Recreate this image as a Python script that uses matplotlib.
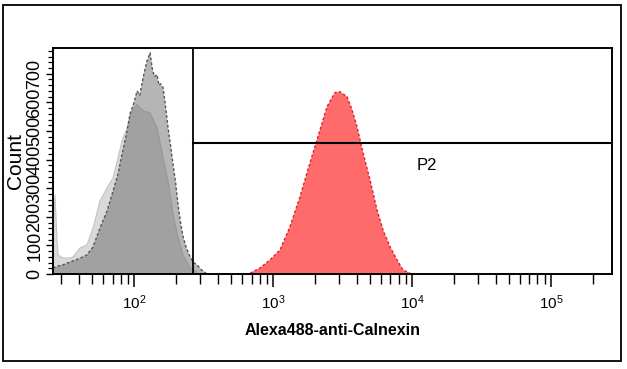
import matplotlib
matplotlib.use("Agg")
import matplotlib.pyplot as plt
from matplotlib import font_manager
from matplotlib.ticker import LogLocator, MultipleLocator, FixedLocator, FixedFormatter, NullFormatter
import numpy as np

# ---------------- data ----------------
# Histogram A (light gray overlay): fluorescence intensity and counts
a_x = [26.1, 27.0, 27.9, 28.4, 30.8, 34.7, 36.4, 40.9, 45.9, 50.7, 56.9, 63.9,
       70.6, 76.7, 82.0, 89.1, 93.6, 105.1, 116.1, 130.4, 146.3, 161.8, 175.7,
       190.8, 207.3, 225.3, 253.1, 283.9]
a_y = [150, 276, 120, 66, 56, 56, 60, 91, 102, 161, 256, 301,
       336, 406, 466, 511, 556, 592, 570, 563, 511, 406, 326,
       210, 126, 66, 21, 7]

# Histogram B (medium gray overlay)
b_x = [26.1, 28.4, 30.8, 34.7, 40.9, 45.9, 50.7, 56.9, 63.9, 70.6, 76.7,
       82.0, 89.1, 93.6, 100.0, 105.1, 110.0, 116.1, 123.0, 130.4, 135.0,
       140.0, 146.3, 151.0, 155.0, 161.8, 168.0, 175.7, 183.0, 190.8, 199.0,
       207.3, 216.0, 225.3, 238.0, 253.1, 268.0, 283.9, 305.0, 334.9]
b_y = [21, 28, 32, 42, 55, 67, 95, 161, 220, 290, 350,
       420, 500, 560, 600, 640, 625, 686, 740, 773, 720,
       690, 697, 660, 665, 651, 590, 511, 450, 382, 320,
       242, 180, 130, 91, 60, 40, 32, 15, 0]

# Sample histogram (red)
r_x = [684, 806, 950, 1122, 1324, 1563, 1845, 2073, 2447, 2792, 3033, 3405,
       3700, 4018, 4438, 4987, 5600, 6186, 6950, 7802, 8610, 9680]
r_y = [3, 21, 49, 84, 165, 270, 389, 469, 585, 634, 637, 620,
       574, 515, 424, 329, 224, 154, 95, 49, 14, 3]

# Gate P2
gate_lo = 265
gate_level = 458
gate_name = "P2"
gate_label_pos = (12800, 381)

x_label = "Alexa488-anti-Calnexin"
y_label = "Count"
x_major = [1e2, 1e3, 1e4, 1e5]
x_major_labels = [r"$10^{2}$", r"$10^{3}$", r"$10^{4}$", r"$10^{5}$"]
y_major = [0, 100, 200, 300, 400, 500, 600, 700]

x_range = (26.1, 2.75e5)
y_range = (0, 790)

# ---------------- fonts ----------------
names = {f.name for f in font_manager.fontManager.ttflist}
narrow = "Liberation Sans Narrow" if "Liberation Sans Narrow" in names else "Liberation Sans"
is_narrow = narrow == "Liberation Sans Narrow"
plt.rcParams["font.family"] = ["Liberation Sans", "DejaVu Sans"]
plt.rcParams["mathtext.fontset"] = "custom"
plt.rcParams["mathtext.rm"] = narrow
plt.rcParams["mathtext.it"] = narrow
plt.rcParams["mathtext.bf"] = narrow + ":bold"

# ---------------- figure ----------------
fig = plt.figure(figsize=(6.27, 3.69), dpi=100)
W, H = 627, 369
ax = fig.add_axes([53 / W, 1 - 274 / H, (612 - 53) / W, (274 - 48) / H])

# outer frame
fig.patches.append(plt.Rectangle((3 / W, 1 - 361 / H), (621 - 3) / W, (361 - 5) / H,
                                 transform=fig.transFigure, fill=False,
                                 edgecolor="black", linewidth=1.3))

ax.fill_between(a_x, a_y, 0, facecolor="#d9d9d9", edgecolor="none", zorder=1)
ax.plot(a_x, a_y, color="#c4c4c4", lw=0.8, zorder=1.5)
ax.fill_between(b_x, b_y, 0, facecolor="#656565", alpha=0.48, edgecolor="none", zorder=2)
ax.plot(b_x, b_y, color="#555555", lw=1.0, ls=(0, (2, 1.5)), zorder=2.5)
ax.fill_between(r_x, r_y, 0, facecolor="#ff6b6b", edgecolor="none", zorder=2)
ax.plot(r_x, r_y, color="#e0202a", lw=1.0, ls=(0, (2, 1.5)), zorder=2.5)

# gate
ax.axvline(gate_lo, color="black", lw=1.3, zorder=3)
ax.plot([gate_lo, x_range[1]], [gate_level, gate_level], color="black", lw=1.5, zorder=3)
ax.text(gate_label_pos[0], gate_label_pos[1], gate_name, ha="center", va="center",
        fontsize=12, family=[narrow, "DejaVu Sans"], zorder=4)

ax.set_xscale("log")
ax.set_xlim(*x_range)
ax.set_ylim(*y_range)

ax.xaxis.set_major_locator(FixedLocator(x_major))
ax.xaxis.set_major_formatter(FixedFormatter(x_major_labels))
ax.xaxis.set_minor_locator(LogLocator(base=10, subs=np.arange(2, 10)))
ax.xaxis.set_minor_formatter(NullFormatter())
ax.yaxis.set_major_locator(FixedLocator(y_major))
ax.yaxis.set_minor_locator(MultipleLocator(20))

ax.tick_params(axis="x", which="major", direction="out", length=9, width=1.1, labelsize=11, pad=5)
ax.tick_params(axis="x", which="minor", direction="out", length=7, width=1.0)
ax.tick_params(axis="y", which="major", direction="out", length=5, width=1.0, labelsize=13,
               labelrotation=90, pad=2)
ax.tick_params(axis="y", which="minor", direction="out", length=3.5, width=0.9)
for lbl in ax.get_yticklabels():
    lbl.set_va("center")

for s in ax.spines.values():
    s.set_linewidth(1.4)

ax.set_xlabel(x_label, fontsize=14 if is_narrow else 11.5, fontweight="bold",
              family=[narrow, "DejaVu Sans"], labelpad=8)
ax.set_ylabel(y_label, fontsize=15, labelpad=1)

fig.savefig("out.png", dpi=100, facecolor="white")
